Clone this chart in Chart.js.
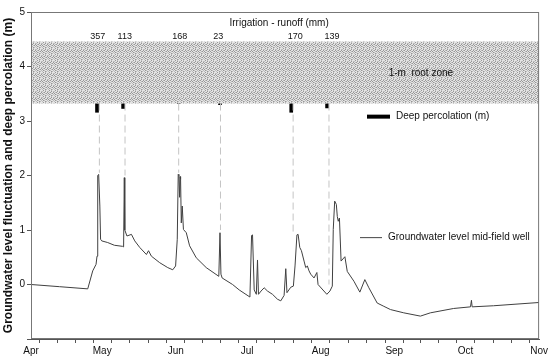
<!DOCTYPE html>
<html>
<head>
<meta charset="utf-8">
<script src="https://cdn.jsdelivr.net/npm/chart.js@4/dist/chart.umd.min.js"></script>
<style>
  html, body { margin: 0; padding: 0; background: #fff; }
  #wrap { width: 550px; height: 364px; }
</style>
</head>
<body>
<div id="wrap"><canvas id="chart" width="550" height="364"></canvas></div>
<script>
// Axis: days since 1 April
const monthLabels = ['Apr', 'May', 'Jun', 'Jul', 'Aug', 'Sep', 'Oct', 'Nov'];
const monthStartDays = [0, 30, 61, 91, 122, 153, 183, 214];
const yTicks = [-1, 0, 1, 2, 3, 4, 5];

// Groundwater level, mid-field well (m)
const gwDays = [0, 12, 23.9, 26.0, 27.4, 27.8, 28.1, 28.5, 29.0, 29.3, 29.8, 32.3, 35.1, 38.6, 39.0, 39.3,
  39.5, 40.4, 42.3, 43.7, 45.8, 48.6, 49.5, 50.7, 54.2, 57.6, 59.7, 60.9, 61.6, 62.0, 62.3, 62.6, 62.8,
  63.0, 63.3, 63.7, 64.2, 65.4, 66.8, 69.6, 73.8, 79.1, 79.6, 80.0, 80.5, 84.9, 87.7, 92.2, 92.9, 93.3,
  94.0, 94.9, 95.4, 95.8, 96.9, 98.2, 99.6, 101.7, 103.8, 105.2, 106.6, 107.3, 107.8, 109.4, 110.5, 111.2,
  112.0, 112.5, 113.2, 113.9, 115.0, 115.7, 116.4, 117.1, 117.8, 119.2, 120.4, 120.9, 124.6, 125.9, 126.9,
  127.3, 127.9, 128.6, 129.0, 129.4, 129.9, 130.6, 132.2, 133.2, 136.0, 138.5, 140.6, 142.3, 145.8, 148.6,
  151.4, 157.0, 164.0, 168.2, 178.0, 185.1, 185.5, 185.8, 194.8, 214];
const gwLevel = [0.0, -0.04, -0.08, 0.25, 0.37, 0.52, 2.0, 2.02, 1.44, 0.83, 0.80, 0.77, 0.72, 0.70, 0.69, 1.96,
  1.0, 0.89, 0.92, 0.80, 0.68, 0.55, 0.62, 0.52, 0.40, 0.31, 0.27, 0.34, 0.83, 2.02, 2.0, 1.6, 1.98,
  1.93, 1.13, 1.44, 1.01, 0.95, 0.71, 0.49, 0.31, 0.15, 0.95, 0.19, 0.12, 0.0, -0.10, -0.23, 0.90, 0.91,
  -0.10, -0.18, 0.45, -0.18, -0.12, -0.06, -0.12, -0.18, -0.27, -0.30, -0.20, 0.29, -0.15, -0.05, -0.03, 0.34,
  0.91, 0.92, 0.68, 0.62, 0.43, 0.31, 0.34, 0.25, 0.19, 0.12, 0.22, 0.0, -0.18, -0.12, -0.03,
  1.01, 1.53, 1.47, 1.25, 1.16, 1.22, 0.43, 0.51, 0.24, 0.06, -0.14, 0.09, -0.06, -0.34, -0.40,
  -0.46, -0.52, -0.58, -0.52, -0.44, -0.41, -0.29, -0.41, -0.39, -0.33];

// Irrigation events
const irrigationRunoff = [357, 113, 168, 23, 170, 139];
const irrigationLabelDays = [28.1, 39.5, 62.6, 78.9, 111.3, 126.8];
const eventDays = [28.8, 39.6, 62.2, 79.8, 110.4, 125.5];
const eventLineBottom = [2.05, 2.0, 2.05, 1.0, 0.95, 0.0];

// Deep percolation (m), hanging below the root zone
const percDays = [27.8, 38.8, 62.2, 79.6, 109.6, 124.7];
const percDepth = [0.16, 0.09, 0, 0.02, 0.16, 0.08];

// 1-m root zone band (m)
const rootZoneBottom = 3.32;
const rootZoneTop = 4.46;

const FONT = '"Liberation Sans", Arial, sans-serif';

function makePattern() {
  const rows = ['LDLMLL', 'MLLDLM', 'LMDLLD', 'DLLMDL', 'LDMLLM', 'MLLDML'];
  const cols = { L: '#e4e4e4', M: '#bcbcbc', D: '#979797' };
  const c = document.createElement('canvas');
  c.width = 6; c.height = 6;
  const g = c.getContext('2d');
  rows.forEach((r, y) => r.split('').forEach((k, x) => { g.fillStyle = cols[k]; g.fillRect(x, y, 1, 1); }));
  return g.createPattern(c, 'repeat');
}

// minor ticks: quarter of each month
const xTickValues = [];
for (let i = 0; i < monthStartDays.length - 1; i++) {
  const a = monthStartDays[i], b = monthStartDays[i + 1];
  for (let k = 0; k < 4; k++) xTickValues.push(a + (b - a) * k / 4);
}
xTickValues.push(monthStartDays[monthStartDays.length - 1]);

const extras = {
  id: 'extras',
  afterDatasetsDraw(chart) {
    const { ctx, chartArea: a, scales: { x, y } } = chart;
    ctx.save();
    // frame
    ctx.strokeStyle = '#777';
    ctx.lineWidth = 1;
    ctx.strokeRect(a.left + 0.5, a.top + 0.5, a.right - a.left - 1, a.bottom - a.top - 1);

    ctx.fillStyle = '#111';
    ctx.textBaseline = 'middle';
    ctx.textAlign = 'center';
    ctx.font = '10px ' + FONT;
    ctx.fillText('Irrigation - runoff (mm)', x.getPixelForValue(104.5), y.getPixelForValue(4.80));
    ctx.font = '9px ' + FONT;
    irrigationRunoff.forEach((v, i) => {
      ctx.fillText(String(v), x.getPixelForValue(irrigationLabelDays[i]), y.getPixelForValue(4.55));
    });
    ctx.font = '10px ' + FONT;
    ctx.fillText('1-m  root zone', x.getPixelForValue(164.2), y.getPixelForValue(3.87));

    // legend: deep percolation
    ctx.fillStyle = '#000';
    const ly1 = y.getPixelForValue(3.08);
    ctx.fillRect(367, ly1 - 2, 23, 4);
    ctx.textAlign = 'left';
    ctx.fillStyle = '#111';
    ctx.fillText('Deep percolation (m)', 396, ly1);

    // legend: groundwater
    const ly2 = y.getPixelForValue(0.86);
    ctx.strokeStyle = '#444';
    ctx.beginPath();
    ctx.moveTo(360, ly2); ctx.lineTo(382, ly2);
    ctx.stroke();
    ctx.fillText('Groundwater level mid-field well', 388, ly2);
    ctx.restore();
  }
};

const datasets = [];
datasets.push({
  type: 'line', data: [{ x: 0, y: rootZoneTop }, { x: 214, y: rootZoneTop }],
  borderWidth: 0, pointRadius: 0, fill: '+1', backgroundColor: makePattern()
});
datasets.push({
  type: 'line', data: [{ x: 0, y: rootZoneBottom }, { x: 214, y: rootZoneBottom }],
  borderWidth: 0, pointRadius: 0, fill: false
});
eventDays.forEach((d, i) => {
  datasets.push({
    type: 'line', data: [{ x: d, y: rootZoneBottom }, { x: d, y: eventLineBottom[i] }],
    borderColor: '#c4c4c4', borderWidth: 1, borderDash: [7, 4], pointRadius: 0, fill: false
  });
});
datasets.push({
  type: 'bar',
  data: percDays.map((d, i) => ({ x: d, y: [rootZoneBottom - percDepth[i], rootZoneBottom] })),
  backgroundColor: '#000', borderWidth: 0, barThickness: 3, grouped: false
});
datasets.push({
  type: 'line',
  data: gwDays.map((d, i) => ({ x: d, y: gwLevel[i] })),
  borderColor: '#404040', borderWidth: 1, pointRadius: 0, tension: 0, fill: false
});

new Chart(document.getElementById('chart'), {
  data: { datasets },
  options: {
    responsive: false,
    animation: false,
    events: [],
    layout: { padding: { top: 12, right: 9, left: 0, bottom: 0 } },
    plugins: { legend: { display: false }, tooltip: { enabled: false } },
    scales: {
      x: {
        type: 'linear', min: 0, max: 214, offset: false,
        afterBuildTicks: s => { s.ticks = xTickValues.map(v => ({ value: v })); },
        afterFit: s => { s.height = 25; },
        grid: { drawOnChartArea: false, drawTicks: true, tickLength: 4, color: '#555' },
        border: { color: '#555' },
        ticks: {
          autoSkip: false, maxRotation: 0, padding: 2, color: '#111',
          font: { family: FONT, size: 10 },
          callback: v => {
            const i = monthStartDays.indexOf(v);
            return i >= 0 ? monthLabels[i] : '';
          }
        }
      },
      y: {
        type: 'linear', min: -1, max: 5,
        afterBuildTicks: s => { s.ticks = yTicks.map(v => ({ value: v })); },
        afterFit: s => { s.width = 31; },
        grid: { drawOnChartArea: false, drawTicks: true, tickLength: 4, color: '#555' },
        border: { color: '#555' },
        ticks: {
          padding: 2, color: '#111', font: { family: FONT, size: 10 },
          callback: v => (v < 0 ? '' : String(v))
        },
        title: {
          display: true, text: 'Groundwater level fluctuation and deep percolation (m)',
          color: '#111', font: { family: FONT, size: 12, weight: 'bold' }, padding: { top: 1, bottom: 0 }
        }
      }
    }
  },
  plugins: [extras]
});
</script>
</body>
</html>
